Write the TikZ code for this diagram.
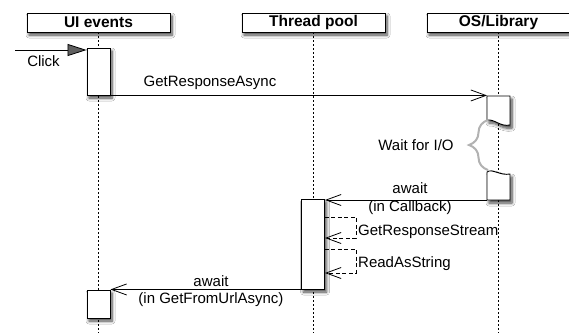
\documentclass[tikz,border=0pt]{standalone}
\usepackage{fontspec}
\setmainfont{Liberation Sans}
\usetikzlibrary{arrows.meta,shadows,shadows.blur,decorations.pathreplacing}
\begin{document}
\begin{tikzpicture}[x=1pt,y=-1pt,
  lbl/.style={font=\fontsize{15}{18}\selectfont, inner sep=0pt},
  shd/.style={blur shadow={shadow xshift=2pt,shadow yshift=-3pt,shadow blur steps=6,shadow blur radius=3pt,shadow opacity=75}},
  hdr/.style={draw, fill=white, line width=0.9pt, minimum width=143pt, minimum height=19pt, inner sep=0pt, font=\fontsize{15.5}{18}\selectfont\bfseries, shd},
  act/.style={draw, fill=white, line width=0.9pt, minimum width=23pt, inner sep=0pt, shd},
  life/.style={line width=1.1pt, dash pattern=on 1.2pt off 2.8pt},
  msg/.style={line width=0.8pt, -{Straight Barb[length=15pt,width=11pt]}},
  selfcall/.style={msg, dash pattern=on 4pt off 2.5pt},
  wavy/.style={draw, fill=white, line width=0.9pt, shd}
]
\useasboundingbox (0,0) rectangle (569,333);
\fill[white] (0,0) rectangle (569,333);

% headers
\node[hdr] (hui) at (98.5,22.5) {UI events};
\node[hdr] (htp) at (313.5,22.5) {Thread pool};
\node[hdr] (hos) at (498.5,22.5) {OS/Library};

% lifeline ends
\coordinate (eui) at (98.5,333);
\coordinate (etp) at (313.5,333);
\coordinate (eos) at (498.5,333);
\draw[life] (hui.south) -- (eui);
\draw[life] (htp.south) -- (etp);
\draw[life] (hos.south) -- (eos);

% activation boxes
\node[act, minimum height=47pt] (ui1) at (98.5,71.5) {};
\node[act, minimum height=90pt] (tp) at (313,244) {};
\node[act, minimum height=28pt] (ui2) at (98.5,304) {};

% OS activation boxes (wavy)
\draw[wavy] (487,96) -- (510,96) -- (510,125) .. controls (500,127) and (495,119) .. (487,120) -- cycle;
\draw[wavy] (487,172) .. controls (492,168) and (500,176) .. (510,174) -- (510,200) -- (487,200) -- cycle;
\coordinate (os1nw) at (487,96);
\coordinate (os2sw) at (487,200);

% brace
\draw[black!30, line width=2pt, decorate, decoration={brace, amplitude=19pt}] (488,170) -- (488,120);
\node[lbl, anchor=base] (wait) at (416,150) {Wait for I/O};

% Click
\coordinate (click) at (15,50);
\draw[line width=0.8pt, -{Triangle[length=19pt,width=12pt]}] (click) -- (click -| ui1.west);
\node[lbl, anchor=base] (clicklbl) at (43.5,66) {Click};

% GetResponseAsync
\draw[msg] (ui1.south east) -- (ui1.south east -| os1nw);
\node[lbl, anchor=base] (gra) at (210,86) {GetResponseAsync};

% await (callback)
\draw[msg] (os2sw) -- (os2sw -| tp.east);
\node[lbl, anchor=base] (aw1) at (410,193) {await};
\node[lbl, anchor=base] (aw1b) at (410,211) {(in Callback)};

% self calls
\coordinate (s1a) at (356,217);
\coordinate (s1b) at (356,238);
\draw[selfcall] (tp.east |- s1a) -- (s1a) -- (s1b) -- (tp.east |- s1b);
\node[lbl, anchor=base west] (grs) at (358,235) {GetResponseStream};
\coordinate (s2a) at (356,249);
\coordinate (s2b) at (356,273);
\draw[selfcall] (tp.east |- s2a) -- (s2a) -- (s2b) -- (tp.east |- s2b);
\node[lbl, anchor=base west] (ras) at (358,267) {ReadAsString};

% await (GetFromUrlAsync)
\draw[msg] (tp.south west) -- (tp.south west -| ui2.east);
\node[lbl, anchor=base] (aw2) at (211,286) {await};
\node[lbl, anchor=base] (aw2b) at (211,303) {(in GetFromUrlAsync)};
\end{tikzpicture}
\end{document}
